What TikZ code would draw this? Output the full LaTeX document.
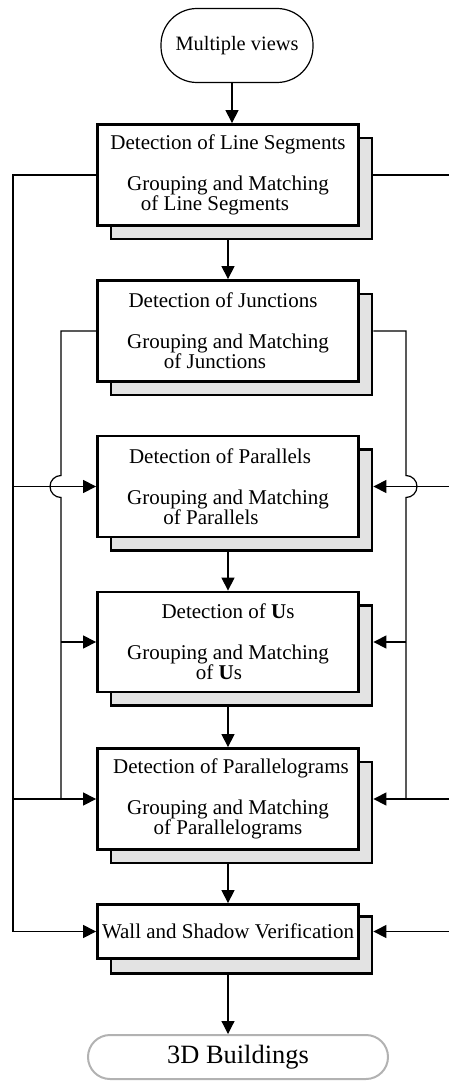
\documentclass[tikz,border=0pt]{standalone}
\usepackage{fontspec}
\setmainfont{Liberation Serif}
\usetikzlibrary{arrows.meta}
\usetikzlibrary{calc}
\def\shadowColor{gray!22}
\def\resultColor{gray!60}
\tikzset{
stage box/.style={draw, line width=1.4pt, fill=white, minimum width=130.5pt, inner sep=0pt, align=center, font=\fontsize{10.5}{10}\selectfont},
shadow box/.style={draw, line width=1.4pt, fill=\shadowColor, minimum width=130.5pt, inner sep=0pt},
view node/.style={draw, line width=0.6pt, rounded corners=18pt, minimum width=76pt, minimum height=37pt, inner sep=0pt, font=\fontsize{10.2}{12}\selectfont},
result node/.style={draw=\resultColor, line width=1pt, rounded corners=11pt, minimum width=150pt, minimum height=22pt, inner sep=0pt, font=\fontsize{13.2}{15}\selectfont},
flow/.style={line width=0.6pt, -{Triangle[length=6.5pt,width=6.5pt]}},
link/.style={line width=0.6pt},
}
% name, y, front height, shadow height, text
\newcommand{\stage}[5]{%
  \node[shadow box, minimum height=#4] (s#1) at (241.5,#2+13.5) {};
  \node[stage box, minimum height=#3] (b#1) at (228,#2) {#5};
}

\begin{document}
\begin{tikzpicture}[x=0.5pt,y=-0.5pt]
        \useasboundingbox (0,0) rectangle (449,1081);
        \node[view node] (mv) at (237,45.5) {Multiple views};
        \stage{1}{175}{50.5pt}{50.5pt}{Detection of Line Segments\\[10.5pt]Grouping and Matching\\of Line Segments\hspace*{13pt}}
        \stage{2}{331}{50.5pt}{50.5pt}{Detection of Junctions\hspace*{5pt}\\[10.5pt]Grouping and Matching\\of Junctions\hspace*{13pt}}
        \stage{3}{486.5}{50.5pt}{50.5pt}{Detection of Parallels\hspace*{8pt}\\[10.5pt]Grouping and Matching\\of Parallels\hspace*{17pt}}
        \stage{4}{642}{50pt}{50pt}{Detection of \textbf{U}s\\[10.5pt]Grouping and Matching\\of \textbf{U}s\hspace*{9pt}}
        \stage{5}{799}{50.5pt}{50.5pt}{\hspace*{3pt}Detection of Parallelograms\\[10.5pt]Grouping and Matching\\of Parallelograms}
        \stage{6}{931.5}{27pt}{28.5pt}{Wall and Shadow Verification}
        \node[result node] (res) at (238,1057) {3D Buildings};
        \coordinate (L1) at (13,0);
        \coordinate (L2) at (61,0);
        \coordinate (R2) at (406,0);
        \coordinate (R1) at (449,0);
        % main flow
        \draw[flow] ([xshift=-2.5pt]mv.south) -- ([xshift=-2.5pt]mv.south |- b1.north);
        \foreach \a/\b in {1/2,3/4,4/5,5/6}
            \draw[flow] (b\a.south |- s\a.south) -- (b\b.north);
        \draw[flow] (b6.south |- s6.south) -- (b6.south |- res.north);
        % left side
        \draw[flow] (b1.west) -| (L1 |- b6) -- (b6.west);
        \foreach \n in {3,5}
            \draw[flow] (L1 |- b\n) -- (b\n.west);
        \draw[link] (b2.west) -| ($(L2 |- b3)+(0,-11)$) arc[start angle=90,end angle=270,radius=5.5pt] -- (L2 |- b5);
        \draw[flow] (L2 |- b4) -- (b4.west);
        % right side
        \draw[link] (b1 -| s1.east) -- (b1 -| R1);
        \draw[link] (b2 -| s2.east) -| ($(R2 |- b3)+(0,-11)$) arc[start angle=90,end angle=-90,radius=5.5pt] -- (R2 |- b5);
        \foreach \n in {3,5,6}
            \draw[flow] (R1 |- b\n) -- (b\n -| s\n.east);
        \draw[flow] (R2 |- b4) -- (b4 -| s4.east);
    \end{tikzpicture}
\end{document}
